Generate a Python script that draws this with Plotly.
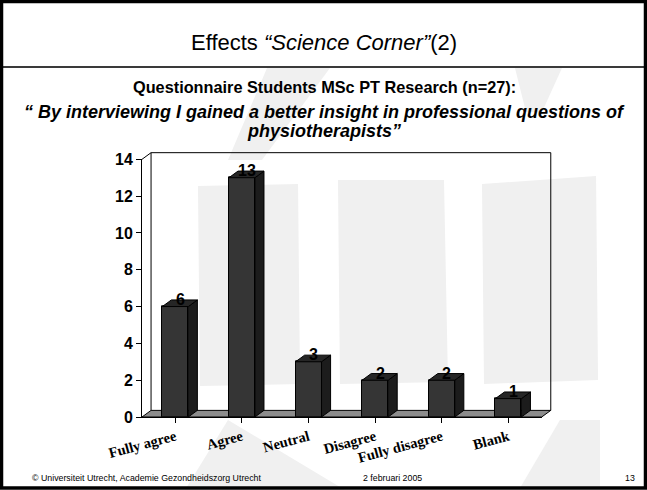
import plotly.graph_objects as go

# ---------------- data ----------------
categories = ["Fully agree", "Agree", "Neutral", "Disagree", "Fully disagree", "Blank"]
counts = [6, 13, 3, 2, 2, 1]
y_ticks = [0, 2, 4, 6, 8, 10, 12, 14]

title_main = "Effects <i>“Science Corner”</i>(2)"
subtitle = "<b>Questionnaire Students MSc PT Research (n=27):</b>"
quote_1 = "<b><i>“ By interviewing I gained a better insight in professional questions of</i></b>"
quote_2 = "<b><i>physiotherapists”</i></b>"
footer_left = "© Universiteit Utrecht, Academie Gezondheidszorg Utrecht"
footer_mid = "2 februari 2005"
footer_right = "13"

# ---------------- layout constants ----------------
W, H = 647, 490
X_RANGE = [-0.5, len(categories) - 0.5]
Y_RANGE = [0, 14]
x_px = (142.0, 541.7)   # pixel span of x range
y_px = (417.0, 159.3)   # pixel of y=0 and y=14
BAR_W = 0.39
DX = 0.136   # depth offset in category units
DY = 0.36    # depth offset in value units

FRONT = "#353535"
SIDE = "#1c1c1c"
TOP = "#262626"
FLOOR = "#8c8c8c"
WM = "#f0f0f0"

def px(x):
    return x / W

def py(y):
    return 1 - y / H

def dom_x(v):
    return (v - X_RANGE[0]) / (X_RANGE[1] - X_RANGE[0])

def dom_y(v):
    return (v - Y_RANGE[0]) / (Y_RANGE[1] - Y_RANGE[0])

fig = go.Figure()

# side faces and top faces of bars (derived from counts)
sx, sy, tx, ty = [], [], [], []
for i, v in enumerate(counts):
    r = i + BAR_W / 2
    l = i - BAR_W / 2
    sx += [r, r + DX, r + DX, r, r, None]
    sy += [0, DY, v + DY, v, 0, None]
    tx += [l, l + DX, r + DX, r, l, None]
    ty += [v, v + DY, v + DY, v, v, None]

fig.add_trace(go.Scatter(x=sx, y=sy, mode="lines", fill="toself", fillcolor=SIDE,
                         line=dict(color="black", width=1), hoverinfo="skip", showlegend=False))
fig.add_trace(go.Scatter(x=tx, y=ty, mode="lines", fill="toself", fillcolor=TOP,
                         line=dict(color="black", width=1), hoverinfo="skip", showlegend=False))
fig.add_trace(go.Bar(x=list(range(len(categories))), y=counts, width=BAR_W,
                     marker=dict(color=FRONT, line=dict(color="black", width=1)),
                     showlegend=False))

# value labels
for i, v in enumerate(counts):
    fig.add_annotation(x=i, y=v, xref="x", yref="y", text=f"<b>{v}</b>", showarrow=False,
                       xshift=5, yshift=7, font=dict(family="Liberation Sans", size=16, color="black"))

shapes = []
# watermark (slide background)
wm_polys = [
    [(198, 186), (298, 184), (300, 384), (200, 386)],
    [(338, 180), (444, 180), (448, 382), (340, 384)],
    [(482, 184), (596, 176), (598, 380), (484, 384)],
    [(267, 68), (330, 68), (262, 160), (228, 160)],
    [(515, 68), (562, 68), (542, 112), (526, 112)],
    [(228, 420), (345, 490), (185, 490)],
    [(560, 420), (600, 420), (600, 488), (520, 488)],
]
for poly in wm_polys:
    path = "M " + " L ".join(f"{px(a):.4f},{py(b):.4f}" for a, b in poly) + " Z"
    shapes.append(dict(type="path", xref="paper", yref="paper", path=path,
                       fillcolor=WM, line=dict(width=0), layer="below"))

# floor
fl = [(X_RANGE[0], 0), (X_RANGE[1], 0), (X_RANGE[1] + DX, DY), (X_RANGE[0] + DX, DY)]
shapes.append(dict(type="path", xref="x domain", yref="y domain",
                   path="M " + " L ".join(f"{dom_x(a):.4f},{dom_y(b):.4f}" for a, b in fl) + " Z",
                   fillcolor=FLOOR, line=dict(color="black", width=1), layer="below"))
# walls outline
wall = [(X_RANGE[0], Y_RANGE[1]), (X_RANGE[0] + DX, Y_RANGE[1] + DY),
        (X_RANGE[1] + DX, Y_RANGE[1] + DY), (X_RANGE[1] + DX, DY)]
shapes.append(dict(type="path", xref="x domain", yref="y domain",
                   path="M " + " L ".join(f"{dom_x(a):.4f},{dom_y(b):.4f}" for a, b in wall),
                   line=dict(color="black", width=1), layer="below"))
shapes.append(dict(type="line", xref="x domain", yref="y domain",
                   x0=dom_x(X_RANGE[0] + DX), y0=dom_y(DY),
                   x1=dom_x(X_RANGE[0] + DX), y1=dom_y(Y_RANGE[1] + DY),
                   line=dict(color="black", width=1), layer="below"))

# slide frame and title separator
shapes.append(dict(type="line", xref="paper", yref="paper", x0=0, x1=1, y0=py(67), y1=py(67),
                   line=dict(color="#3a3a3a", width=2)))
shapes.append(dict(type="rect", xref="paper", yref="paper", x0=px(1.5), x1=px(W - 1.5),
                   y0=py(H - 2), y1=py(1.5), line=dict(color="black", width=3.5)))

fig.update_layout(shapes=shapes)

# slide texts
def text_note(x, y, text, size, anchor="center"):
    fig.add_annotation(x=px(x), y=py(y), xref="paper", yref="paper", text=text,
                       showarrow=False, xanchor=anchor, yanchor="middle",
                       font=dict(family="Liberation Sans", size=size, color="black"))

text_note(323.5, 42, title_main, 22)
text_note(324, 87, subtitle, 16.3)
text_note(324, 112, quote_1, 18)
text_note(324, 131, quote_2, 18)
text_note(30, 478, footer_left, 8.8, "left")
text_note(392, 478, footer_mid, 8.8)
text_note(637, 478, footer_right, 8.8, "right")

fig.update_layout(
    template="none",
    width=W, height=H, autosize=False,
    margin=dict(l=0, r=0, t=0, b=0, pad=0),
    paper_bgcolor="white", plot_bgcolor="rgba(0,0,0,0)",
    bargap=0,
    xaxis=dict(domain=[px(x_px[0]), px(x_px[1])], range=X_RANGE, automargin=False,
               tickmode="array", tickvals=list(range(len(categories))), ticktext=categories,
               tickangle=-15, showline=True, linecolor="black", linewidth=1,
               showgrid=False, zeroline=False, ticks="outside", ticklen=5,
               tickcolor="black", tickfont=dict(family="Liberation Serif", size=14.5,
                                                color="black", weight="bold")),
    yaxis=dict(domain=[py(y_px[0]), py(y_px[1])], range=Y_RANGE, automargin=False,
               tickvals=y_ticks, showline=True, linecolor="black", linewidth=1,
               showgrid=False, zeroline=False, ticks="outside", ticklen=5,
               tickcolor="black", tickfont=dict(family="Liberation Sans", size=16,
                                                color="black", weight="bold")),
)

fig.write_html("out.html", config={"displayModeBar": False},
               post_script="document.body.style.margin='0';document.body.style.overflow='hidden';")
